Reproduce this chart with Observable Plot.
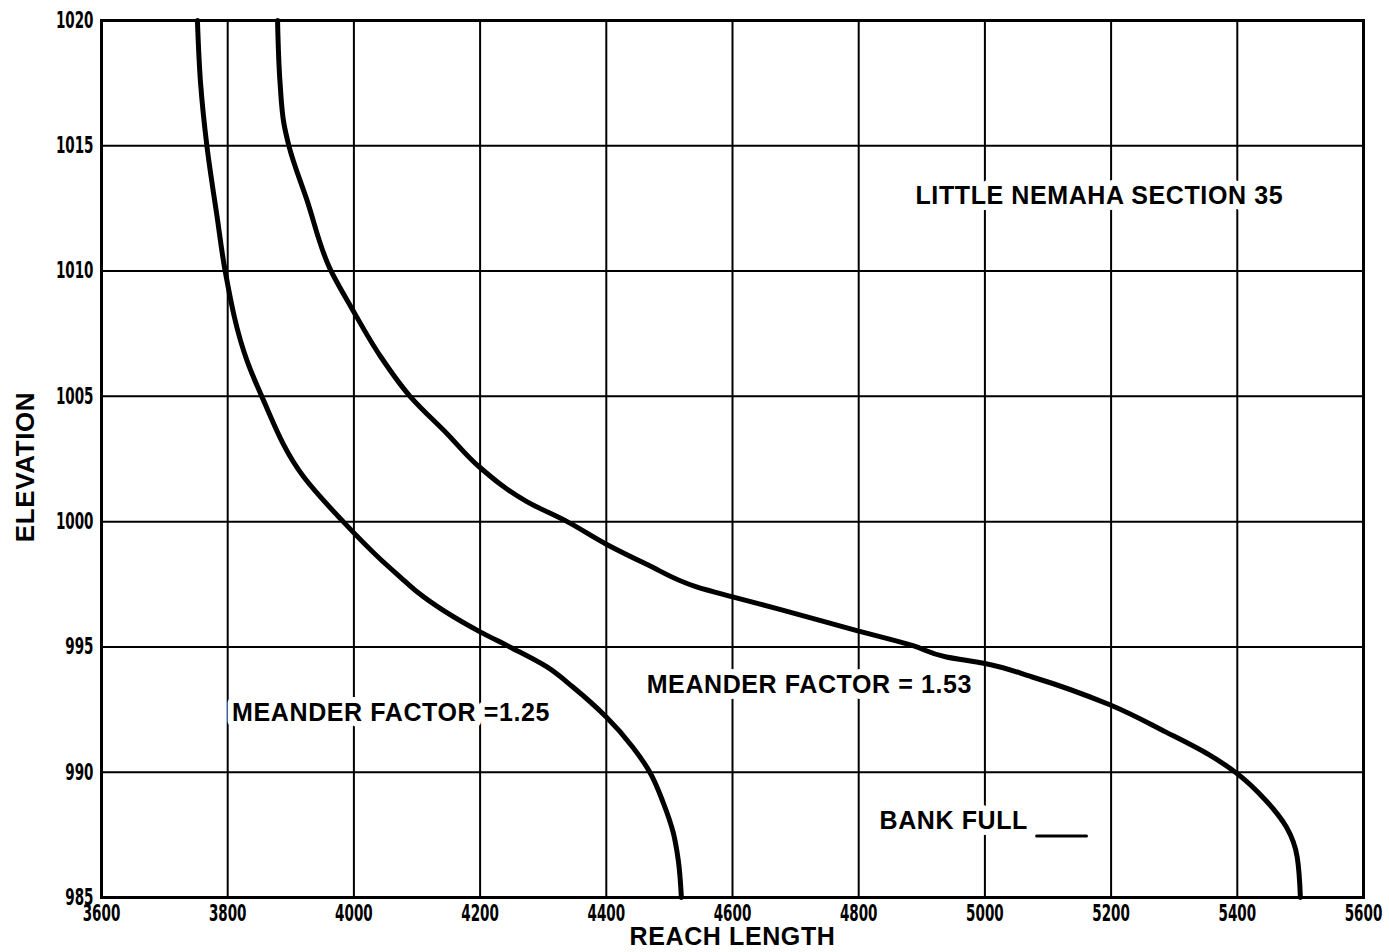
<!DOCTYPE html>
<html>
<head>
<meta charset="utf-8">
<script src="https://cdn.jsdelivr.net/npm/d3@7"></script>
<script src="https://cdn.jsdelivr.net/npm/@observablehq/plot@0.6"></script>
<style>
  html, body { margin: 0; padding: 0; background: #fff; }
  #chart svg { display: block; }
  #chart g[aria-label="text"] text { letter-spacing: 0.6px; }
</style>
</head>
<body>
<div id="chart"></div>
<script>
// Tick values
const xTicks = [3600, 3800, 4000, 4200, 4400, 4600, 4800, 5000, 5200, 5400, 5600];
const yTicks = [985, 990, 995, 1000, 1005, 1010, 1015, 1020];

// Meander factor = 1.25 curve
const mf125Length = [3752, 3757, 3767, 3783, 3796, 3831, 3854, 3920, 3983, 4042, 4073, 4100, 4200, 4247, 4306, 4347, 4400, 4442, 4469, 4490, 4506, 4514, 4519];
const mf125Elev   = [1020, 1017.5, 1015, 1012.2, 1010, 1006.4, 1005, 1001.8, 1000, 998.5, 997.8, 997.2, 995.6, 995, 994.2, 993.4, 992.2, 991, 990, 988.8, 987.6, 986.5, 985];

// Meander factor = 1.53 curve
const mf153Length = [3879, 3883, 3889, 3897, 3926, 3962, 3997, 4042, 4089, 4148, 4198, 4274, 4338, 4400, 4464, 4543, 4600, 4675, 4797, 4886, 4939, 4998, 5075, 5197, 5287, 5355, 5397, 5446, 5478, 5495, 5500];
const mf153Elev   = [1020, 1017.5, 1015.9, 1015, 1012.8, 1010.1, 1008.5, 1006.6, 1005, 1003.5, 1002.2, 1000.8, 1000, 999.1, 998.3, 997.4, 997.0, 996.5, 995.65, 995.05, 994.6, 994.35, 993.8, 992.7, 991.6, 990.7, 990, 988.85, 987.8, 986.6, 985];

// Annotations (text and anchor in data units)
const labelText = ["LITTLE NEMAHA SECTION 35", "MEANDER FACTOR =1.25", "MEANDER FACTOR = 1.53", "BANK FULL"];
const labelX    = [4890, 3807, 4464, 4833];
const labelY    = [1013, 992.35, 993.5, 988.05];
// Bank full legend swatch
const swatchX = [5082, 5161];
const swatchY = [987.45, 987.45];

const curve1 = mf125Length.map((x, i) => ({x, y: mf125Elev[i]}));
const curve2 = mf153Length.map((x, i) => ({x, y: mf153Elev[i]}));
const labels = labelText.map((t, i) => ({t, x: labelX[i], y: labelY[i]}));
const swatch = swatchX.map((x, i) => ({x, y: swatchY[i]}));

const tickFont = "'DejaVu Sans Condensed', 'DejaVu Sans', sans-serif";
const textFont = "'Liberation Sans', Arial, sans-serif";

const chart = Plot.plot({
  width: 1389,
  height: 952,
  marginLeft: 101,
  marginRight: 26,
  marginTop: 20,
  marginBottom: 55,
  x: {domain: [3600, 5600]},
  y: {domain: [985, 1020]},
  marks: [
    Plot.ruleX(xTicks.slice(1, -1), {stroke: "#000", strokeWidth: 2}),
    Plot.ruleY(yTicks.slice(1, -1), {stroke: "#000", strokeWidth: 2}),
    Plot.line(curve1, {x: "x", y: "y", stroke: "#000", strokeWidth: 5, curve: "monotone-y"}),
    Plot.line(curve2, {x: "x", y: "y", stroke: "#000", strokeWidth: 5, curve: "monotone-y"}),
    Plot.text(labels, {x: "x", y: "y", text: "t", textAnchor: "start", fill: "#000",
      stroke: "#fff", strokeWidth: 12, fontSize: 25, fontWeight: "bold", fontFamily: textFont}),
    Plot.line(swatch, {x: "x", y: "y", stroke: "#000", strokeWidth: 3}),
    Plot.frame({stroke: "#000", strokeWidth: 3}),
    Plot.axisX(xTicks, {tickSize: 0, tickPadding: 7, label: null, fontSize: 23, fontWeight: "bold",
      fontFamily: tickFont, tickFormat: d => String(d)}),
    Plot.axisY(yTicks, {tickSize: 0, tickPadding: 8, label: null, fontSize: 23, fontWeight: "bold",
      fontFamily: tickFont, tickFormat: d => String(d)}),
    Plot.text(["REACH LENGTH"], {frameAnchor: "bottom", lineAnchor: "middle", textAnchor: "middle", dy: 39,
      fontSize: 25, fontWeight: "bold", fontFamily: textFont, fill: "#000"}),
    Plot.text(["ELEVATION"], {frameAnchor: "left", textAnchor: "middle", lineAnchor: "middle", dx: -76, dy: 8, rotate: -90,
      fontSize: 26, fontWeight: "bold", fontFamily: textFont, fill: "#000"})
  ]
});
// condense the tick numerals like the original's narrow face
d3.select(chart).selectAll('g[aria-label$="tick label"] text').each(function() {
  const n = this.textContent.length;
  this.setAttribute("textLength", 9.4 * n);
  this.setAttribute("lengthAdjust", "spacingAndGlyphs");
});
document.getElementById("chart").appendChild(chart);
</script>
</body>
</html>
